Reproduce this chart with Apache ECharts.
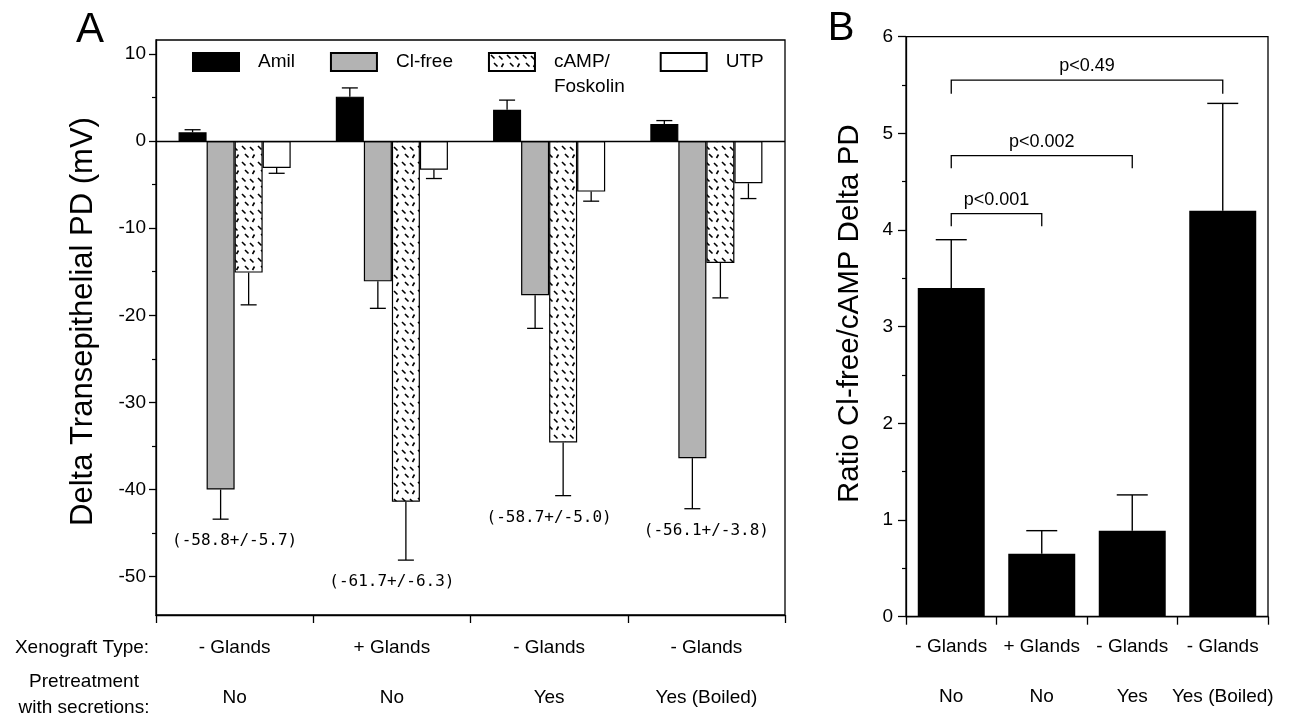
<!DOCTYPE html>
<html><head><meta charset="utf-8">
<script src="https://cdn.jsdelivr.net/npm/echarts@6/dist/echarts.min.js"></script>
<style>html,body{margin:0;padding:0;background:#fff}#c{width:1298px;height:715px}</style>
</head><body><div id="c"></div>
<script>
// ---------- data ----------
const groupXeno = ['- Glands', '+ Glands', '- Glands', '- Glands'];
const groupPretreat = ['No', 'No', 'Yes', 'Yes (Boiled)'];
const seriesNames = ['Amil', 'Cl-free', 'cAMP/Foskolin', 'UTP'];

const amil = [1.0, 5.1, 3.6, 1.95];
const amilErr = [0.3, 1.0, 1.1, 0.4];
const clFree = [-40.0, -16.1, -17.7, -36.4];
const clFreeErr = [3.4, 3.1, 3.8, 5.8];
const camp = [-15.1, -41.4, -34.6, -14.0];
const campErr = [3.7, 6.7, 6.1, 4.0];
const utp = [-3.1, -3.3, -5.8, -4.85];
const utpErr = [0.6, 1.0, 1.1, 1.75];
const groupNotes = ['(-58.8+/-5.7)', '(-61.7+/-6.3)', '(-58.7+/-5.0)', '(-56.1+/-3.8)'];

const ratio = [3.4, 0.65, 0.89, 4.2];
const ratioErr = [0.5, 0.24, 0.37, 1.11];

const bracketFrom = [0, 0, 0];
const bracketTo = [1, 2, 3];
const bracketLevel = [4.17, 4.77, 5.55];
const bracketFoot = [4.04, 4.64, 5.41];
const bracketText = ['p<0.001', 'p<0.002', 'p<0.49'];

const yTicksA = [-50, -40, -30, -20, -10, 0, 10];
const yMinorA = [-45, -35, -25, -15, -5, 5];
const yMinA = -54.4, yMaxA = 11.6;

// ---------- helpers ----------
const FONT = "'Liberation Sans', Arial, Helvetica, sans-serif";
const catGapA = 0.287;

function hatch() {
  const c = document.createElement('canvas');
  c.width = 16; c.height = 16;
  const g = c.getContext('2d');
  g.fillStyle = '#fff'; g.fillRect(0, 0, 16, 16);
  g.strokeStyle = '#000'; g.lineWidth = 1.6; g.lineCap = 'butt';
  g.beginPath();
  g.moveTo(2, 2); g.lineTo(5.5, 5.5);
  g.moveTo(10, 3); g.lineTo(13.5, 6.5);
  g.moveTo(5, 10); g.lineTo(8.5, 13.5);
  g.moveTo(12.5, 14); g.lineTo(14.5, 10.5);
  g.stroke();
  return c;
}
const hatchFill = { image: hatch(), repeat: 'repeat' };

const seriesA = [amil, clFree, camp, utp];
const seriesAErr = [amilErr, clFreeErr, campErr, utpErr];
const fillsA = ['#000', '#b3b3b3', hatchFill, '#fff'];

const errDataA = [];
seriesA.forEach((vals, s) => vals.forEach((v, g) => errDataA.push([g, v, seriesAErr[s][g], s])));
const noteData = groupNotes.map((t, g) => {
  let deepest = 0;
  seriesA.forEach((vals, s) => { const e = vals[g] - seriesAErr[s][g]; if (vals[g] < 0 && e < deepest) deepest = e; });
  return [g, deepest, t];
});
const errDataB = ratio.map((v, g) => [g, v, ratioErr[g]]);
const bracketData = bracketText.map((t, i) => [bracketFrom[i], bracketTo[i], bracketLevel[i], bracketFoot[i], t]);

const catLabel = (m) => ({
  margin: m, color: '#000', fontFamily: FONT, interval: 0,
  formatter: (v, i) => '{a|' + groupXeno[i] + '}\n{b|' + groupPretreat[i] + '}',
  rich: { a: { fontSize: 19, lineHeight: 20, fontFamily: FONT, color: '#000' },
          b: { fontSize: 19, lineHeight: 80, fontFamily: FONT, color: '#000' } }
});
const blackLine = { show: true, onZero: false, lineStyle: { color: '#000', width: 1.3 } };
const catTick = { show: true, interval: 0, length: 8, lineStyle: { color: '#000', width: 1.3 } };

const chart = echarts.init(document.getElementById('c'), null, { renderer: 'canvas' });
chart.setOption({
  animation: false,
  backgroundColor: '#fff',
  textStyle: { fontFamily: FONT, color: '#000' },
  grid: [
    { left: 156, top: 40, width: 629, height: 575, show: true, borderColor: '#000', borderWidth: 1.3, containLabel: false },
    { left: 906, top: 36.7, width: 362, height: 580, show: true, borderColor: '#000', borderWidth: 1.3, containLabel: false }
  ],
  legend: {
    left: 192, top: 24.5, padding: 0, orient: 'horizontal', icon: 'rect',
    itemWidth: 46, itemHeight: 18, itemGap: 35, selectedMode: false,
    textStyle: { fontSize: 19, lineHeight: 25, fontFamily: FONT, color: '#000', padding: [0, 0, 0, 14] },
    data: seriesNames,
    formatter: (n) => n.indexOf('/') >= 0 ? ' \n' + n.replace('/', '/\n') : n
  },
  xAxis: [
    { type: 'category', gridIndex: 0, data: ['0', '1', '2', '3'], boundaryGap: true,
      axisLine: blackLine, axisTick: catTick, axisLabel: catLabel(23), splitLine: { show: false } },
    { type: 'category', gridIndex: 1, data: ['0', '1', '2', '3'], boundaryGap: true,
      axisLine: blackLine, axisTick: catTick, axisLabel: catLabel(20), splitLine: { show: false } }
  ],
  yAxis: [
    { type: 'value', gridIndex: 0, min: yMinA, max: yMaxA,
      name: 'Delta Transepithelial PD (mV)', nameLocation: 'middle', nameGap: 57,
      nameTextStyle: { fontSize: 31, fontFamily: FONT, color: '#000', padding: [0, 0, 0, 12] },
      axisLine: blackLine,
      axisTick: { show: true, length: 7, customValues: yTicksA, lineStyle: { color: '#000', width: 1.3 } },
      axisLabel: { customValues: yTicksA, fontSize: 19, margin: 10, color: '#000', fontFamily: FONT },
      splitLine: { show: false } },
    { type: 'value', gridIndex: 0, min: yMinA, max: yMaxA, position: 'left',
      axisLine: { show: false },
      axisTick: { show: true, length: 4, customValues: yMinorA, lineStyle: { color: '#000', width: 1.2 } },
      axisLabel: { show: false }, splitLine: { show: false } },
    { type: 'value', gridIndex: 1, min: 0, max: 6, interval: 1,
      name: 'Ratio Cl-free/cAMP Delta PD', nameLocation: 'middle', nameGap: 41,
      nameTextStyle: { fontSize: 29.5, fontFamily: FONT, color: '#000', padding: [0, 0, 0, 26] },
      axisLine: blackLine,
      axisTick: { show: true, length: 8, lineStyle: { color: '#000', width: 1.3 } },
      minorTick: { show: true, splitNumber: 2, length: 4, lineStyle: { color: '#000', width: 1.2 } },
      axisLabel: { fontSize: 19, margin: 13, color: '#000', fontFamily: FONT },
      splitLine: { show: false } }
  ],
  graphic: [
    { type: 'text', x: 90, y: 30, style: { text: 'A', font: '42px ' + FONT, fill: '#000', align: 'center', verticalAlign: 'middle' } },
    { type: 'text', x: 841, y: 29, style: { text: 'B', font: '40px ' + FONT, fill: '#000', align: 'center', verticalAlign: 'middle' } },
    { type: 'text', x: 82, y: 648, style: { text: 'Xenograft Type:', font: '19px ' + FONT, fill: '#000', align: 'center', verticalAlign: 'middle' } },
    { type: 'text', x: 84, y: 695, style: { text: 'Pretreatment\nwith secretions:', font: '19px ' + FONT, lineHeight: 26, fill: '#000', align: 'center', verticalAlign: 'middle' } }
  ],
  series: [
    ...seriesA.map((vals, s) => ({
      name: seriesNames[s], type: 'bar', xAxisIndex: 0, yAxisIndex: 0,
      data: vals, barGap: '0%', barCategoryGap: (catGapA * 100) + '%',
      itemStyle: { color: fillsA[s], borderColor: '#000', borderWidth: 1.2 },
      emphasis: { disabled: true },
      markLine: s === 0 ? { silent: true, symbol: 'none', label: { show: false },
        lineStyle: { color: '#000', type: 'solid', width: 1.3 }, data: [{ yAxis: 0 }] } : undefined
    })),
    { type: 'custom', xAxisIndex: 0, yAxisIndex: 0, data: errDataA, encode: { x: 0, y: 1 }, silent: true, z: 3,
      renderItem: (params, api) => {
        const g = api.value(0), v = api.value(1), e = api.value(2), s = api.value(3);
        const base = api.coord([g, v]);
        const end = api.coord([g, v + (v < 0 ? -e : e)]);
        const bw = api.size([1, 0])[0] * (1 - catGapA) / 4;
        const x = base[0] + (s - 1.5) * bw;
        const st = { stroke: '#000', lineWidth: 1.3 };
        return { type: 'group', children: [
          { type: 'line', shape: { x1: x, y1: base[1], x2: x, y2: end[1] }, style: st },
          { type: 'line', shape: { x1: x - 8, y1: end[1], x2: x + 8, y2: end[1] }, style: st }
        ] };
      } },
    { type: 'custom', xAxisIndex: 0, yAxisIndex: 0, data: noteData, encode: { x: 0, y: 1 }, silent: true,
      renderItem: (params, api) => {
        const p = api.coord([api.value(0), api.value(1)]);
        return { type: 'text', x: p[0], y: p[1] + 22,
          style: { text: noteData[params.dataIndex][2], font: "16px 'DejaVu Sans Mono', monospace", fill: '#000', align: 'center', verticalAlign: 'middle' } };
      } },
    { name: 'Ratio', type: 'bar', xAxisIndex: 1, yAxisIndex: 2, data: ratio, barCategoryGap: '26%',
      itemStyle: { color: '#000' }, emphasis: { disabled: true } },
    { type: 'custom', xAxisIndex: 1, yAxisIndex: 2, data: errDataB, encode: { x: 0, y: 1 }, silent: true, z: 3,
      renderItem: (params, api) => {
        const g = api.value(0), v = api.value(1), e = api.value(2);
        const base = api.coord([g, v]); const end = api.coord([g, v + e]);
        const st = { stroke: '#000', lineWidth: 1.4 };
        return { type: 'group', children: [
          { type: 'line', shape: { x1: base[0], y1: base[1], x2: base[0], y2: end[1] }, style: st },
          { type: 'line', shape: { x1: base[0] - 15.5, y1: end[1], x2: base[0] + 15.5, y2: end[1] }, style: st }
        ] };
      } },
    { type: 'custom', xAxisIndex: 1, yAxisIndex: 2, data: bracketData, encode: { x: [0, 1], y: [2, 3] }, silent: true,
      renderItem: (params, api) => {
        const a = api.coord([api.value(0), api.value(2)]);
        const b = api.coord([api.value(1), api.value(2)]);
        const f = api.coord([api.value(0), api.value(3)]);
        const st = { stroke: '#000', lineWidth: 1.3, fill: null };
        return { type: 'group', children: [
          { type: 'polyline', shape: { points: [[a[0], f[1]], [a[0], a[1]], [b[0], b[1]], [b[0], f[1]]] }, style: st },
          { type: 'text', x: (a[0] + b[0]) / 2, y: a[1] - 14,
            style: { text: bracketData[params.dataIndex][4], font: '18px ' + FONT, fill: '#000', align: 'center', verticalAlign: 'middle' } }
        ] };
      } }
  ]
});
</script></body></html>
